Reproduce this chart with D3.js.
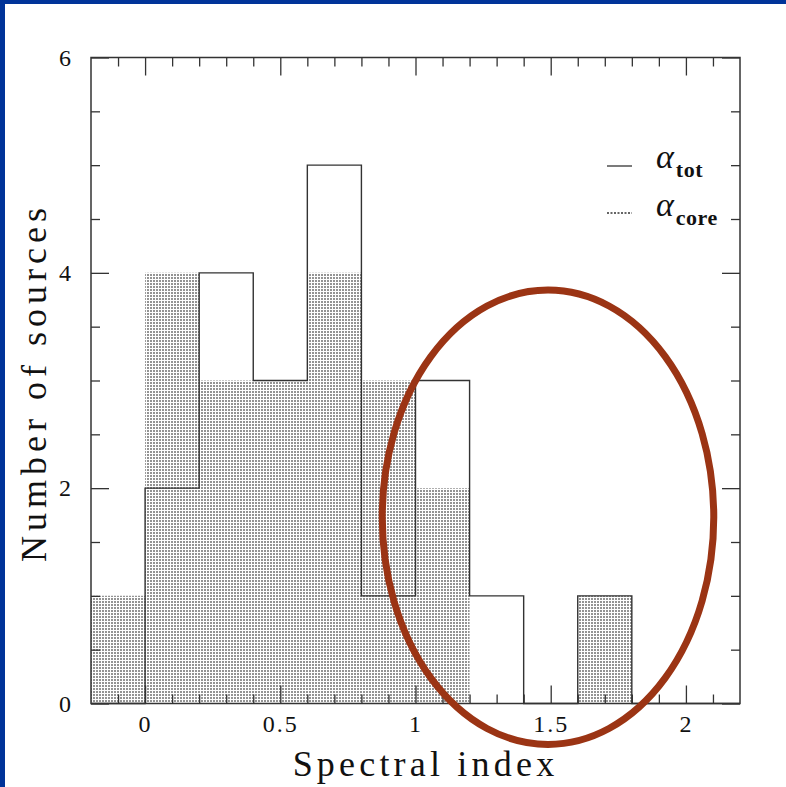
<!DOCTYPE html>
<html>
<head>
<meta charset="utf-8">
<title>Spectral index histogram</title>
<script src="https://cdn.jsdelivr.net/npm/d3@7"></script>
<style>
  body { margin: 0; background: #fff; }
  text, tspan { font-family: "Liberation Serif", "DejaVu Serif", serif; fill: #111; }
</style>
</head>
<body>
<svg id="svg"></svg>
<script>
var WIDTH = 786, HEIGHT = 787;

// histogram bins (left edges), bin width 0.2
var binStarts = [-0.2, 0, 0.2, 0.4, 0.6, 0.8, 1.0, 1.2, 1.4, 1.6, 1.8, 2.0];
var totCounts = [0, 2, 4, 3, 5, 1, 3, 1, 0, 1, 0, 0];
var coreCounts = [1, 4, 3, 3, 4, 3, 2, 0, 0, 1, 0, 0];
var BIN = 0.2;

var xTicks = [0, 0.5, 1, 1.5, 2];
var xTickLabels = ["0", "0.5", "1", "1.5", "2"];
var yTicks = [0, 2, 4, 6];
var yTickLabels = ["0", "2", "4", "6"];

// red annotation ellipse, in data units
var ringCenter = [1.49, 1.73];
var ringRadius = [0.613, 2.11];

var x = d3.scaleLinear().domain([-0.2, 2.2]).range([91, 740]);
var y = d3.scaleLinear().domain([0, 6]).range([703.5, 57.5]);

var svg = d3.select("#svg").attr("width", WIDTH).attr("height", HEIGHT);

// blue frame on top and left
svg.append("rect").attr("x", 0).attr("y", 0).attr("width", WIDTH).attr("height", 4).attr("fill", "#003399");
svg.append("rect").attr("x", 0).attr("y", 0).attr("width", 5).attr("height", HEIGHT).attr("fill", "#003399");

// dotted fill pattern
var defs = svg.append("defs");
var pat = defs.append("pattern").attr("id", "dots")
    .attr("patternUnits", "userSpaceOnUse")
    .attr("width", 3).attr("height", 3)
    .attr("y", y(0) % 3);
pat.append("rect").attr("x", 0).attr("y", 0).attr("width", 2).attr("height", 1).attr("fill", "#2a2a2a");

var corePts = binStarts.map(function(d, i){ return [d, coreCounts[i]]; });
corePts.push([binStarts[binStarts.length - 1] + BIN, 0]);
var totPts = binStarts.map(function(d, i){ return [d, totCounts[i]]; });
totPts.push([binStarts[binStarts.length - 1] + BIN, 0]);

var area = d3.area()
    .x(function(d){ return x(d[0]); })
    .y0(y(0))
    .y1(function(d){ return y(d[1]); })
    .curve(d3.curveStepAfter);

svg.append("path").datum(corePts)
   .attr("d", area)
   .attr("fill", "url(#dots)");

var line = d3.line()
    .x(function(d){ return x(d[0]); })
    .y(function(d){ return y(d[1]); })
    .curve(d3.curveStepAfter);

svg.append("path").datum(totPts)
   .attr("d", line)
   .attr("fill", "none")
   .attr("stroke", "#333")
   .attr("stroke-width", 1.4);

// axes, ticks pointing inward
var minorX = d3.range(-0.1, 2.2, 0.1).map(function(d){ return Math.round(d * 10) / 10; })
               .filter(function(d){ return Math.abs(d * 2 - Math.round(d * 2)) > 1e-6; });
var minorY = d3.range(0.5, 6, 0.5).filter(function(d){ return d % 2 !== 0; });

function styleAxis(g){
    g.select(".domain").remove();
    g.selectAll(".tick line").attr("stroke", "#333").attr("stroke-width", 1.3);
    g.selectAll("text").style("font-size", "24px").style("letter-spacing", "2px")
     .style("font-family", "'Liberation Serif', serif").attr("fill", "#111");
}

svg.append("g").attr("transform", "translate(0," + y(0) + ")")
   .call(d3.axisBottom(x).tickValues(xTicks).tickSize(-18).tickPadding(11)
        .tickFormat(function(d, i){ return xTickLabels[i]; }))
   .call(styleAxis);
svg.append("g").attr("transform", "translate(0," + y(0) + ")")
   .call(d3.axisBottom(x).tickValues(minorX).tickSize(-9).tickFormat(""))
   .call(styleAxis);
svg.append("g").attr("transform", "translate(0," + y(6) + ")")
   .call(d3.axisTop(x).tickValues(xTicks).tickSize(-18).tickFormat(""))
   .call(styleAxis);
svg.append("g").attr("transform", "translate(0," + y(6) + ")")
   .call(d3.axisTop(x).tickValues(minorX).tickSize(-9).tickFormat(""))
   .call(styleAxis);

svg.append("g").attr("transform", "translate(" + x(-0.2) + ",0)")
   .call(d3.axisLeft(y).tickValues(yTicks).tickSize(-18).tickPadding(18)
        .tickFormat(function(d, i){ return yTickLabels[i]; }))
   .call(styleAxis);
svg.append("g").attr("transform", "translate(" + x(-0.2) + ",0)")
   .call(d3.axisLeft(y).tickValues(minorY).tickSize(-9).tickFormat(""))
   .call(styleAxis);
svg.append("g").attr("transform", "translate(" + x(2.2) + ",0)")
   .call(d3.axisRight(y).tickValues(yTicks).tickSize(-18).tickFormat(""))
   .call(styleAxis);
svg.append("g").attr("transform", "translate(" + x(2.2) + ",0)")
   .call(d3.axisRight(y).tickValues(minorY).tickSize(-9).tickFormat(""))
   .call(styleAxis);

// frame
svg.append("rect")
   .attr("x", x(-0.2)).attr("y", y(6))
   .attr("width", x(2.2) - x(-0.2)).attr("height", y(0) - y(6))
   .attr("fill", "none").attr("stroke", "#333").attr("stroke-width", 1.5);

// axis titles
svg.append("text")
   .attr("x", (x(-0.2) + x(2.2)) / 2 + 10).attr("y", 776)
   .attr("text-anchor", "middle")
   .style("font-size", "36px").style("letter-spacing", "4.2px")
   .text("Spectral index");

svg.append("text")
   .attr("transform", "translate(46," + ((y(0) + y(6)) / 2 + 2) + ") rotate(-90)")
   .attr("text-anchor", "middle")
   .style("font-size", "36px").style("letter-spacing", "5px")
   .text("Number of sources");

// legend
var legend = svg.append("g");
legend.append("line").attr("x1", 607).attr("x2", 632).attr("y1", 166).attr("y2", 166)
      .attr("stroke", "#333").attr("stroke-width", 1.3);
legend.append("line").attr("x1", 607).attr("x2", 632).attr("y1", 213).attr("y2", 213)
      .attr("stroke", "#333").attr("stroke-width", 1.3).attr("stroke-dasharray", "2,1.5");

function legendLabel(yPos, sub){
    var t = legend.append("text").attr("x", 656).attr("y", yPos)
        .style("font-family", "'Liberation Serif', serif").style("font-size", "34px");
    t.append("tspan").style("font-style", "italic")
        .style("font-family", "'Liberation Serif', serif").text("α");
    t.append("tspan").attr("dy", 9).attr("dx", 2)
        .style("font-family", "'Liberation Serif', serif")
        .style("font-size", "22px").style("font-weight", "bold").style("letter-spacing", "0.5px")
        .text(sub);
}
legendLabel(168, "tot");
legendLabel(216, "core");

// red annotation ring
svg.append("ellipse")
   .attr("cx", x(ringCenter[0])).attr("cy", y(ringCenter[1]))
   .attr("rx", x(ringRadius[0]) - x(0)).attr("ry", y(0) - y(ringRadius[1]))
   .attr("fill", "none").attr("stroke", "#9b3414").attr("stroke-width", 7);
</script>
</body>
</html>
